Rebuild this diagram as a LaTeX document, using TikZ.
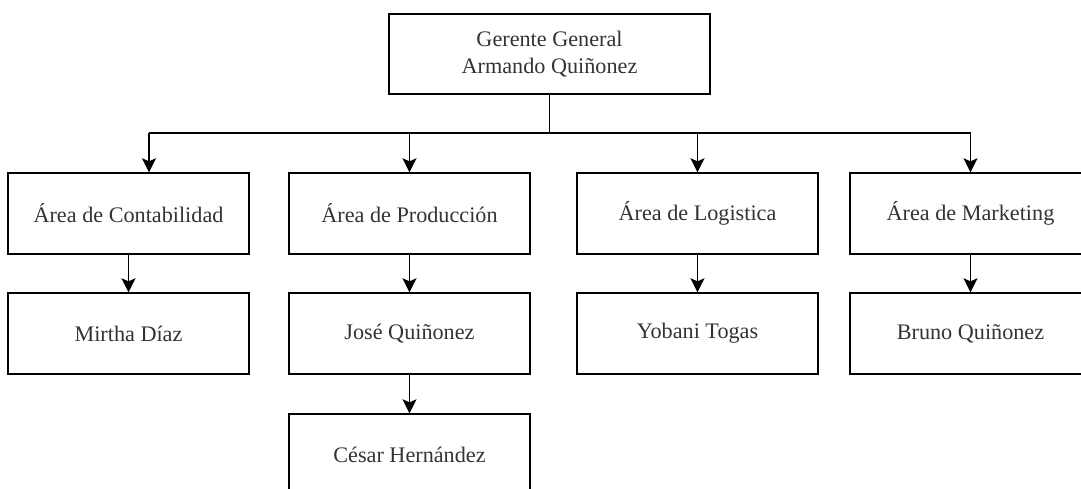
\documentclass[tikz,border=0pt]{standalone}
\usepackage{fontspec}
\setmainfont{Liberation Serif}
\usetikzlibrary{arrows.meta}
\begin{document}
\begin{tikzpicture}[x=1pt,y=-1pt,
  box/.style={draw=black,line width=1.4pt,minimum width=241pt,minimum height=81pt,inner sep=0pt,font=\fontsize{22.2}{27}\selectfont,align=center,text=black!80},
  conn/.style={line width=1.4pt,-{Stealth[width=14pt,length=14pt,inset=3pt]}},
  plain/.style={line width=1.4pt}]
\useasboundingbox (0,0) rectangle (1081,488);
\node[box,minimum width=321pt,minimum height=80pt] (gg) at (549.5,54) {Gerente General\\Armando Quiñonez};
\node[box] (ac) at (128.5,213.5) {Área de Contabilidad};
\node[box] (ap) at (409.5,213.5) {Área de Producción};
\node[box] (al) at (697.5,213.5) {Área de Logistica};
\node[box] (am) at (970.5,213.5) {Área de Marketing};
\node[box] (md) at (128.5,333.5) {Mirtha Díaz};
\node[box] (jq) at (409.5,333.5) {José Quiñonez};
\node[box] (yt) at (697.5,333.5) {Yobani Togas};
\node[box] (bq) at (970.5,333.5) {Bruno Quiñonez};
\node[box] (ch) at (409.5,454.5) {César Hernández};
\coordinate (j) at (549.5,133);
\coordinate (jl) at (149,133);
\coordinate (jr) at (970.5,133);
\draw[plain] (gg.south) -- (j);
\draw[plain] (jl) -- (jr);
\draw[conn] (jl) -- (jl |- ac.north);
\draw[conn] (ap.north |- j) -- (ap.north);
\draw[conn] (al.north |- j) -- (al.north);
\draw[conn] (jr) -- (am.north);
\draw[conn] (ac) -- (md);
\draw[conn] (ap) -- (jq);
\draw[conn] (al) -- (yt);
\draw[conn] (am) -- (bq);
\draw[conn] (jq) -- (ch);
\end{tikzpicture}
\end{document}
